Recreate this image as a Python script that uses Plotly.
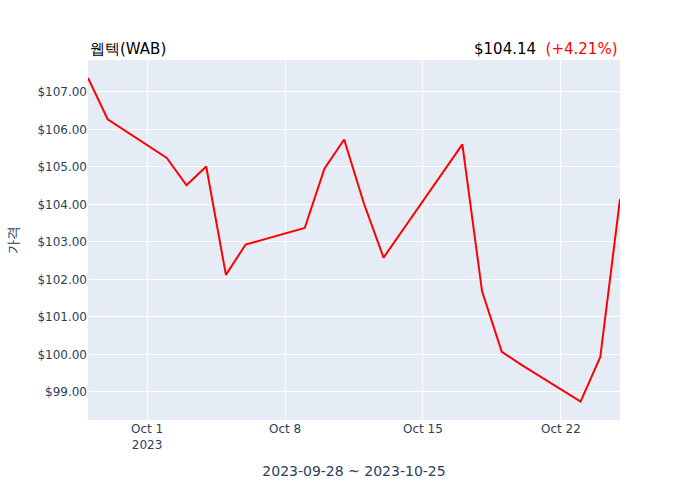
import plotly.graph_objects as go

dates = ["2023-09-28", "2023-09-29", "2023-10-02", "2023-10-03", "2023-10-04", "2023-10-05",
         "2023-10-06", "2023-10-09", "2023-10-10", "2023-10-11", "2023-10-12", "2023-10-13",
         "2023-10-17", "2023-10-18", "2023-10-19", "2023-10-20", "2023-10-23", "2023-10-24",
         "2023-10-25"]
prices = [107.37, 106.27, 105.24, 104.51, 105.01, 102.12, 102.93, 103.37, 104.95, 105.73,
          104.03, 102.58, 105.60, 101.68, 100.07, 99.72, 98.74, 99.93, 104.14]

title_left = "웹텍(WAB)"
last_price = "$104.14"
change_text = "(+4.21%)"
x_title = "2023-09-28 ~ 2023-10-25"
y_title = "가격"

fig = go.Figure()
fig.add_trace(go.Scatter(x=dates, y=prices, mode="lines",
                         line=dict(color="red", width=2), showlegend=False))

fig.update_layout(
    width=700, height=500,
    margin=dict(l=88, r=80, t=60, b=80),
    template="plotly",
    font=dict(family="DejaVu Sans"),
    xaxis=dict(title=dict(text=x_title), range=["2023-09-28", "2023-10-25"],
               tickformat="%b %-d\n%Y", dtick=7 * 86400000, tick0="2023-10-01"),
    yaxis=dict(title=dict(text=y_title), range=[98.25, 107.85], tickprefix="$",
               tickformat=".2f", dtick=1),
    annotations=[
        dict(text=title_left, xref="paper", yref="paper", x=0, y=1.0, xanchor="left",
             yanchor="bottom", showarrow=False,
             font=dict(size=15, color="black", family="DejaVu Sans")),
        dict(text=f"{last_price}  <span style='color:red'>{change_text}</span>",
             xref="paper", yref="paper", x=1, y=1.0, xanchor="right", yanchor="bottom",
             showarrow=False,
             font=dict(size=15, color="black", family="DejaVu Sans")),
    ],
)
fig.write_html("out.html", config={"displayModeBar": False},
               post_script="document.body.style.margin='0';")
